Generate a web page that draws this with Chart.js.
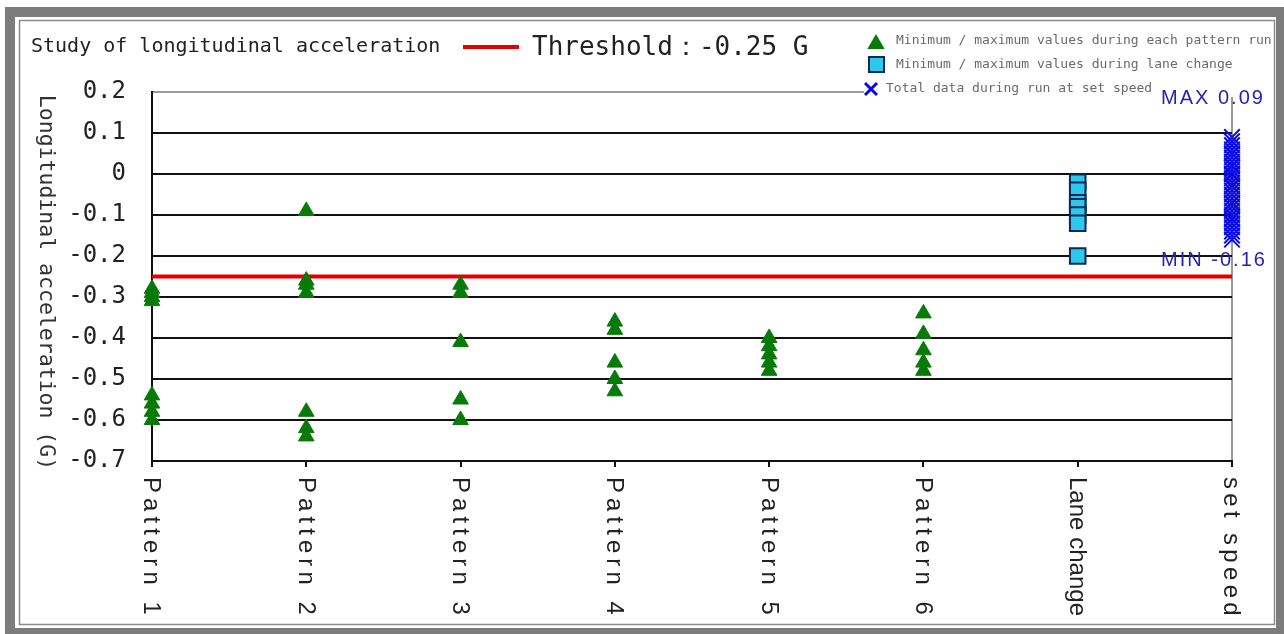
<!DOCTYPE html>
<html>
<head>
<meta charset="utf-8">
<script src="https://cdn.jsdelivr.net/npm/chart.js@4.4.1/dist/chart.umd.min.js"></script>
<style>
  html, body { margin: 0; padding: 0; background: #fff; overflow: hidden; }
  #wrap { width: 1284px; height: 634px; position: relative; }
</style>
</head>
<body>
<div id="wrap"><canvas id="c" width="1284" height="634"></canvas></div>
<script>
// Run categories along the x axis
const categories = ['Pattern 1', 'Pattern 2', 'Pattern 3', 'Pattern 4', 'Pattern 5', 'Pattern 6', 'Lane change', 'set speed'];

// Minimum / maximum longitudinal acceleration (G) for each pattern run
const pattern1 = [-0.28, -0.29, -0.30, -0.31, -0.54, -0.56, -0.58, -0.60];
const pattern2 = [-0.09, -0.26, -0.27, -0.29, -0.58, -0.62, -0.64];
const pattern3 = [-0.27, -0.29, -0.41, -0.55, -0.60];
const pattern4 = [-0.36, -0.38, -0.46, -0.50, -0.53];
const pattern5 = [-0.40, -0.42, -0.44, -0.46, -0.48];
const pattern6 = [-0.34, -0.39, -0.43, -0.46, -0.48];

// Minimum / maximum values during lane change
const laneChange = [-0.02, -0.04, -0.07, -0.08, -0.10, -0.12, -0.20];

// Logged values while running at set speed
const setSpeed = [0.09, 0.08, 0.07, 0.06, 0.05, 0.05, 0.04, 0.03, 0.02, 0.02, 0.01, 0.00, 0.00,
  -0.01, -0.02, -0.03, -0.03, -0.04, -0.05, -0.06, -0.07, -0.07, -0.08, -0.09, -0.10,
  -0.11, -0.11, -0.12, -0.13, -0.14, -0.15, -0.16];

// Threshold level
const threshold = -0.25;

// Y axis ticks
const yTicks = [0.2, 0.1, 0, -0.1, -0.2, -0.3, -0.4, -0.5, -0.6, -0.7];

const legendLabels = [
  'Minimum / maximum values during each pattern run',
  'Minimum / maximum values during lane change',
  'Total data during run at set speed'
];
const chartTitle = 'Study of longitudinal acceleration';
const thresholdLabel = 'Threshold\uFF1A-0.25 G';
const yTitle = 'Longitudinal acceleration (G)';

const patternRuns = [pattern1, pattern2, pattern3, pattern4, pattern5, pattern6];
const patternPoints = [];
patternRuns.forEach((vals, i) => vals.forEach(v => patternPoints.push({ x: i, y: v })));
const lanePoints = laneChange.map(v => ({ x: 6, y: v }));
const speedPoints = setSpeed.map(v => ({ x: 7, y: v }));

const GREEN = '#087a08';
const CYAN = '#2ec8ec';
const NAVY = '#0b2a5a';
const BLUE = '#0a0ae0';
const RED = '#e40000';
const MONO = "'DejaVu Sans Mono', 'Liberation Mono', monospace";
const SANS = "'Liberation Sans', Arial, sans-serif";

// Page frame: grey border with an inner hairline
const framePlugin = {
  id: 'frame',
  beforeDraw(chart) {
    const ctx = chart.ctx;
    ctx.save();
    ctx.fillStyle = '#ffffff';
    ctx.fillRect(0, 0, chart.width, chart.height);
    ctx.fillStyle = '#7c7c7c';
    ctx.fillRect(5, 7, 10, 627);
    ctx.fillRect(5, 7, 1279, 10);
    ctx.fillRect(1276, 7, 8, 627);
    ctx.fillRect(5, 628, 1279, 6);
    ctx.strokeStyle = '#8a8a8a';
    ctx.lineWidth = 1.5;
    ctx.strokeRect(19.5, 20.5, 1255, 604);
    ctx.restore();
  }
};

function drawTriangle(ctx, x, y, r) {
  ctx.beginPath();
  ctx.moveTo(x, y - r);
  ctx.lineTo(x + r * 0.866, y + r * 0.5);
  ctx.lineTo(x - r * 0.866, y + r * 0.5);
  ctx.closePath();
}

// Titles, legend, axis labels and min/max notes
const textPlugin = {
  id: 'texts',
  afterDraw(chart) {
    const ctx = chart.ctx;
    const xs = chart.scales.x, ys = chart.scales.y;
    ctx.save();

    // chart title
    ctx.fillStyle = '#222';
    ctx.font = '20px ' + MONO;
    ctx.textAlign = 'left';
    ctx.textBaseline = 'middle';
    ctx.fillText(chartTitle, 31, 47);

    // threshold legend
    ctx.strokeStyle = RED;
    ctx.lineWidth = 4;
    ctx.beginPath();
    ctx.moveTo(463, 47);
    ctx.lineTo(519, 47);
    ctx.stroke();
    ctx.font = '26px ' + MONO;
    ctx.fillStyle = '#222';
    ctx.fillText(thresholdLabel, 532, 48);

    // series legend box
    ctx.fillStyle = '#ffffff';
    ctx.fillRect(864, 27, 408, 70);
    ctx.font = '13px ' + MONO;
    ctx.fillStyle = '#6a6a6a';
    ctx.fillText(legendLabels[0], 896, 41);
    ctx.fillText(legendLabels[1], 896, 65);
    ctx.fillText(legendLabels[2], 886, 89);
    ctx.fillStyle = GREEN;
    drawTriangle(ctx, 876, 44, 10);
    ctx.fill();
    ctx.fillStyle = CYAN;
    ctx.strokeStyle = NAVY;
    ctx.lineWidth = 2;
    ctx.fillRect(869, 57, 15, 15);
    ctx.strokeRect(869, 57, 15, 15);
    ctx.strokeStyle = BLUE;
    ctx.lineWidth = 3;
    ctx.beginPath();
    ctx.moveTo(865, 83); ctx.lineTo(877, 95);
    ctx.moveTo(877, 83); ctx.lineTo(865, 95);
    ctx.stroke();

    // max / min notes at the set-speed column
    const maxV = Math.max(...setSpeed), minV = Math.min(...setSpeed);
    const sx = xs.getPixelForValue(7);
    ctx.fillStyle = '#2424b0';
    ctx.font = '20px ' + SANS;
    ctx.letterSpacing = '2px';
    ctx.textAlign = 'center';
    ctx.fillText('MAX ' + maxV.toFixed(2), sx - 19, ys.getPixelForValue(maxV) - 39);
    ctx.fillText('MIN ' + minV.toFixed(2), sx - 18, ys.getPixelForValue(minV) + 21);

    // y axis title, rotated clockwise
    ctx.letterSpacing = '0px';
    ctx.save();
    ctx.translate(46, (ys.top + ys.bottom) / 2 + 6);
    ctx.rotate(Math.PI / 2);
    ctx.font = '21.5px ' + MONO;
    ctx.fillStyle = '#333';
    ctx.textAlign = 'center';
    ctx.textBaseline = 'middle';
    ctx.fillText(yTitle, 0, 0);
    ctx.restore();

    // category labels, rotated clockwise
    categories.forEach((label, i) => {
      const px = xs.getPixelForValue(i);
      ctx.save();
      ctx.font = '24px ' + SANS;
      ctx.letterSpacing = '0px';
      const w = ctx.measureText(label).width;
      const target = 139;
      const gap = Math.max(0, (target - w) / (label.length - 1));
      ctx.letterSpacing = gap.toFixed(2) + 'px';
      ctx.translate(px, 477);
      ctx.rotate(Math.PI / 2);
      ctx.fillStyle = '#222';
      ctx.textAlign = 'left';
      ctx.textBaseline = 'middle';
      ctx.fillText(label, 0, 1, target + 4);
      ctx.restore();
    });

    ctx.restore();
  }
};

new Chart(document.getElementById('c'), {
  type: 'scatter',
  data: {
    datasets: [
      {
        label: legendLabels[0],
        data: patternPoints,
        pointStyle: 'triangle',
        pointRadius: 9,
        pointBackgroundColor: GREEN,
        pointBorderColor: GREEN,
        pointBorderWidth: 1,
        clip: false,
        order: 1
      },
      {
        label: legendLabels[1],
        data: lanePoints,
        pointStyle: 'rect',
        pointRadius: 11,
        pointBackgroundColor: CYAN,
        pointBorderColor: NAVY,
        pointBorderWidth: 2,
        clip: false,
        order: 1
      },
      {
        label: legendLabels[2],
        data: speedPoints,
        pointStyle: 'crossRot',
        pointRadius: 11,
        pointBorderColor: BLUE,
        pointBorderWidth: 2,
        clip: false,
        order: 1
      },
      {
        type: 'line',
        label: 'Threshold',
        data: [{ x: 0, y: threshold }, { x: 7, y: threshold }],
        borderColor: RED,
        borderWidth: 4,
        pointRadius: 0,
        fill: false,
        clip: false,
        order: 5
      }
    ]
  },
  options: {
    responsive: false,
    devicePixelRatio: 1,
    animation: false,
    events: [],
    layout: { padding: { left: 0, top: 92, right: 52, bottom: 0 } },
    plugins: {
      legend: { display: false },
      tooltip: { enabled: false },
      title: { display: false }
    },
    scales: {
      x: {
        type: 'linear',
        min: 0,
        max: 7,
        afterFit: s => { s.height = 634 - 461; },
        ticks: { display: false, stepSize: 1 },
        border: { display: true, color: '#111', width: 2 },
        grid: {
          drawTicks: true,
          tickLength: 6,
          tickWidth: 2,
          tickColor: '#111',
          lineWidth: 2,
          color: c => (c.tick && c.tick.value === 7 ? '#9a9a9a' : 'rgba(0,0,0,0)')
        }
      },
      y: {
        type: 'linear',
        min: -0.7,
        max: 0.2,
        afterFit: s => { s.width = 152; },
        afterBuildTicks: s => { s.ticks = yTicks.map(v => ({ value: v })); },
        ticks: {
          padding: 26,
          color: '#222',
          font: { family: MONO, size: 24 },
          callback: v => {
            const r = Math.round(v * 10) / 10;
            return r === 0 ? '0' : r.toFixed(1);
          }
        },
        border: { display: true, color: '#111', width: 2 },
        grid: {
          drawTicks: false,
          lineWidth: 2,
          color: c => {
            const v = c.tick ? Math.round(c.tick.value * 10) / 10 : 0;
            if (v === 0.2) return '#9a9a9a';
            if (v === -0.7) return 'rgba(0,0,0,0)';
            return '#111';
          }
        }
      }
    }
  },
  plugins: [framePlugin, textPlugin]
});
</script>
</body>
</html>
